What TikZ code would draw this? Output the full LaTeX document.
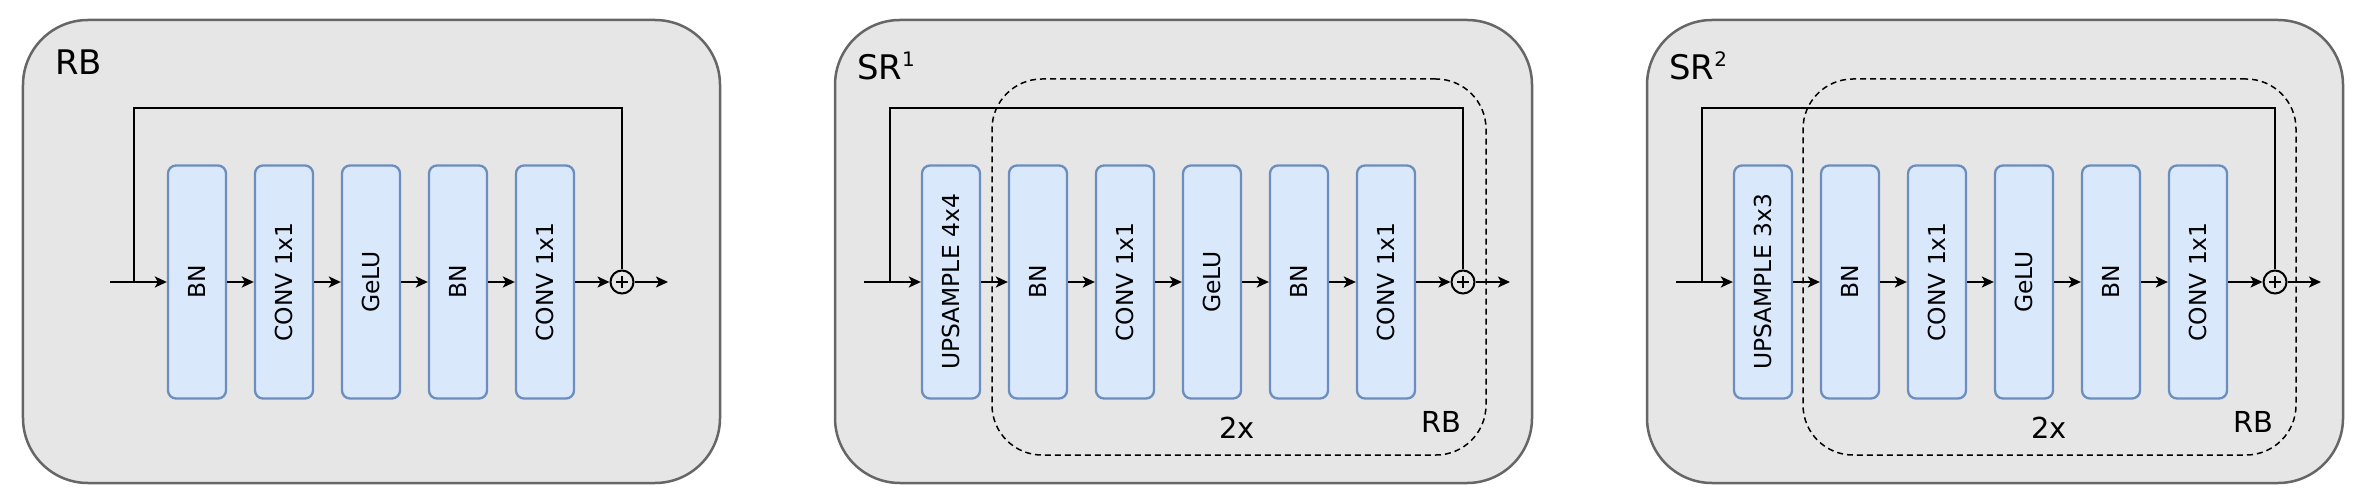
\documentclass[tikz,border=0pt]{standalone}
\usepackage{fontspec}
\setmainfont{DejaVu Sans}
\usetikzlibrary{arrows.meta}
\definecolor{panelfill}{HTML}{E6E6E6}
\definecolor{panelline}{HTML}{666666}
\definecolor{boxfill}{HTML}{DAE8FC}
\definecolor{boxline}{HTML}{6C8EBF}
\tikzset{
 panel/.style={draw=panelline, fill=panelfill, line width=2.5bp, rounded corners=65bp, inner sep=0pt},
 layer/.style={draw=boxline, fill=boxfill, line width=2.3bp, rounded corners=8bp, minimum width=58bp, minimum height=233bp, inner sep=0pt, text=black, font=\fontsize{23.5}{28}\selectfont},
 flow/.style={line width=2.7bp, -{Stealth[length=12bp,width=11bp,inset=3bp]}},
 wire/.style={line width=2.7bp, line join=miter},
 sumnode/.style={circle, draw, line width=2bp, minimum size=23bp, inner sep=0pt},
 plusbar/.style={line width=1.6bp},
 rbbox/.style={draw, dash pattern=on 6bp off 4bp, line width=1.5bp, rounded corners=50bp, inner sep=0pt},
 title/.style={font=\fontsize{34}{40}\selectfont, anchor=base west, inner sep=0pt},
 note/.style={font=\fontsize{29}{34}\selectfont, anchor=base, inner sep=0pt},
}
\newcommand{\supnum}[1]{\raisebox{13bp}{\fontsize{20}{24}\selectfont #1}}
\begin{document}
\begin{tikzpicture}[x=1bp,y=-1bp]
\useasboundingbox (0,0) rectangle (2366,504);

% ---------------- Panel 1: RB ----------------
\node[panel, minimum width=697bp, minimum height=463bp] (P1) at (371.5,251.5) {};
\node[title] (T1) at (55,75) {RB};
\coordinate (in1) at (110,282);
\coordinate (br1) at (134,282);
\coordinate (tl1) at (134,108);
\coordinate (out1) at (668,282);
\node[sumnode] (s1) at (622,282) {};
\coordinate (tr1) at (622,108);
\draw[wire] (br1) -- (tl1) -- (tr1) -- (s1.north);
\node[layer] (a1) at (197,282) {\rotatebox{90}{BN}};
\node[layer] (a2) at (284,282) {\rotatebox{90}{CONV 1x1}};
\node[layer] (a3) at (371,282) {\rotatebox{90}{GeLU}};
\node[layer] (a4) at (458,282) {\rotatebox{90}{BN}};
\node[layer] (a5) at (545,282) {\rotatebox{90}{CONV 1x1}};
\draw[flow] (in1) -- (a1.west);
\draw[flow] (a1.east) -- (a2.west);
\draw[flow] (a2.east) -- (a3.west);
\draw[flow] (a3.east) -- (a4.west);
\draw[flow] (a4.east) -- (a5.west);
\draw[flow] (a5.east) -- (s1.west);
\draw[flow] (s1.east) -- (out1);
\draw[plusbar] ([xshift=-6bp]s1.center) -- ([xshift=6bp]s1.center);
\draw[plusbar] ([yshift=-6bp]s1.center) -- ([yshift=6bp]s1.center);

% ---------------- Panel 2: SR1 ----------------
\node[panel, minimum width=697bp, minimum height=463bp] (P2) at (1183.5,251.5) {};
\node[title] (T2) at (857,80) {SR\supnum{1}};
\node[rbbox, minimum width=494bp, minimum height=376bp] (R2) at (1239,267) {};
\node[note] (n2) at (1237,438) {2x};
\node[note] (r2) at (1441,432) {RB};
\coordinate (in2) at (864,282);
\coordinate (br2) at (890,282);
\coordinate (tl2) at (890,108);
\coordinate (out2) at (1510,282);
\node[sumnode] (s2) at (1463,282) {};
\coordinate (tr2) at (1463,108);
\draw[wire] (br2) -- (tl2) -- (tr2) -- (s2.north);
\node[layer] (b0) at (951,282) {\rotatebox{90}{UPSAMPLE 4x4}};
\node[layer] (b1) at (1038,282) {\rotatebox{90}{BN}};
\node[layer] (b2) at (1125,282) {\rotatebox{90}{CONV 1x1}};
\node[layer] (b3) at (1212,282) {\rotatebox{90}{GeLU}};
\node[layer] (b4) at (1299,282) {\rotatebox{90}{BN}};
\node[layer] (b5) at (1386,282) {\rotatebox{90}{CONV 1x1}};
\draw[flow] (in2) -- (b0.west);
\draw[flow] (b0.east) -- (b1.west);
\draw[flow] (b1.east) -- (b2.west);
\draw[flow] (b2.east) -- (b3.west);
\draw[flow] (b3.east) -- (b4.west);
\draw[flow] (b4.east) -- (b5.west);
\draw[flow] (b5.east) -- (s2.west);
\draw[flow] (s2.east) -- (out2);
\draw[plusbar] ([xshift=-6bp]s2.center) -- ([xshift=6bp]s2.center);
\draw[plusbar] ([yshift=-6bp]s2.center) -- ([yshift=6bp]s2.center);

% ---------------- Panel 3: SR2 ----------------
\node[panel, minimum width=696bp, minimum height=463bp] (P3) at (1995,251.5) {};
\node[title] (T3) at (1669,80) {SR\supnum{2}};
\node[rbbox, minimum width=493bp, minimum height=376bp] (R3) at (2049.5,267) {};
\node[note] (n3) at (2049,438) {2x};
\node[note] (r3) at (2253,432) {RB};
\coordinate (in3) at (1676,282);
\coordinate (br3) at (1702,282);
\coordinate (tl3) at (1702,108);
\coordinate (out3) at (2321,282);
\node[sumnode] (s3) at (2275,282) {};
\coordinate (tr3) at (2275,108);
\draw[wire] (br3) -- (tl3) -- (tr3) -- (s3.north);
\node[layer] (c0) at (1763,282) {\rotatebox{90}{UPSAMPLE 3x3}};
\node[layer] (c1) at (1850,282) {\rotatebox{90}{BN}};
\node[layer] (c2) at (1937,282) {\rotatebox{90}{CONV 1x1}};
\node[layer] (c3) at (2024,282) {\rotatebox{90}{GeLU}};
\node[layer] (c4) at (2111,282) {\rotatebox{90}{BN}};
\node[layer] (c5) at (2198,282) {\rotatebox{90}{CONV 1x1}};
\draw[flow] (in3) -- (c0.west);
\draw[flow] (c0.east) -- (c1.west);
\draw[flow] (c1.east) -- (c2.west);
\draw[flow] (c2.east) -- (c3.west);
\draw[flow] (c3.east) -- (c4.west);
\draw[flow] (c4.east) -- (c5.west);
\draw[flow] (c5.east) -- (s3.west);
\draw[flow] (s3.east) -- (out3);
\draw[plusbar] ([xshift=-6bp]s3.center) -- ([xshift=6bp]s3.center);
\draw[plusbar] ([yshift=-6bp]s3.center) -- ([yshift=6bp]s3.center);
\end{tikzpicture}
\end{document}
